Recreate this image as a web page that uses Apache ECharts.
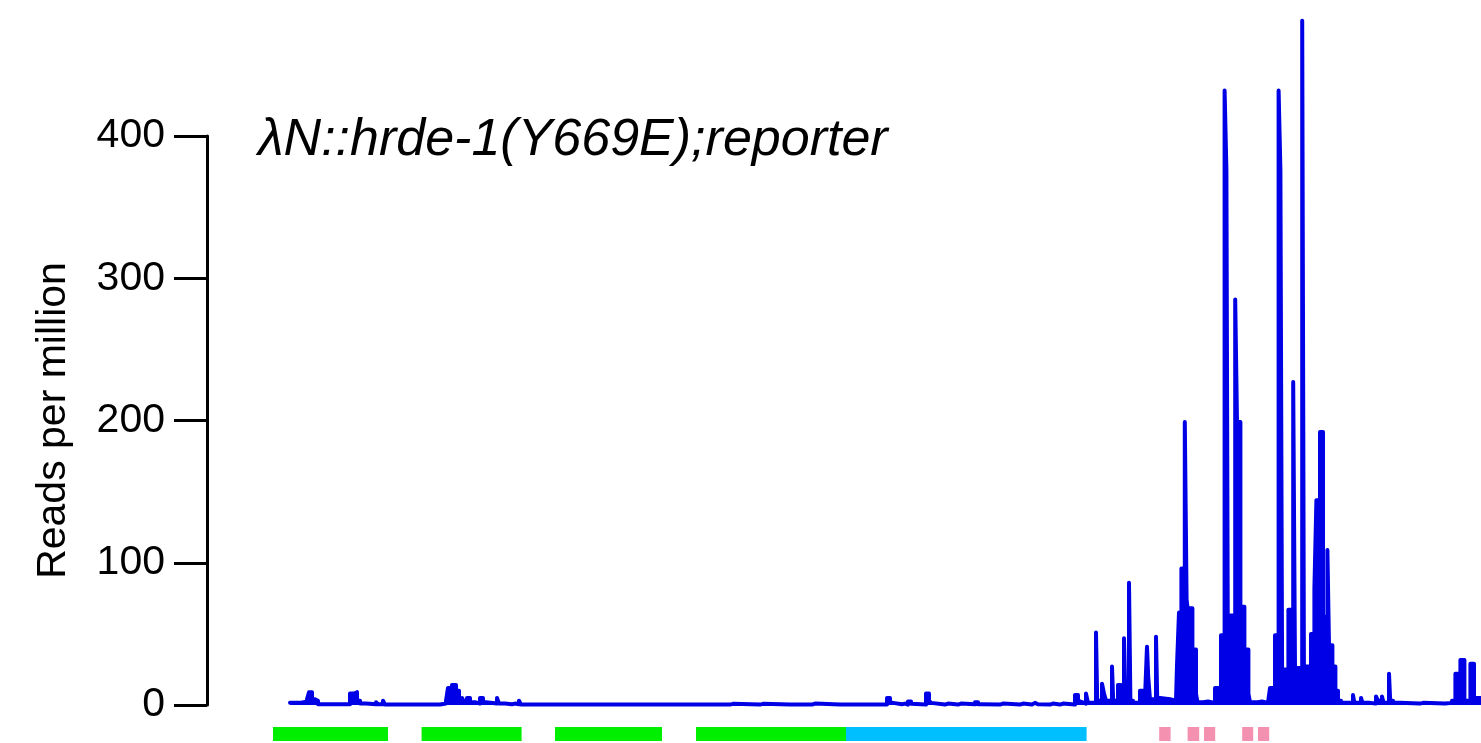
<!DOCTYPE html>
<html><head><meta charset="utf-8">
<script src="https://cdn.jsdelivr.net/npm/echarts@6/dist/echarts.min.js"></script>
<style>html,body{margin:0;padding:0;background:#fff}#c{width:1481px;height:743px}</style>
</head><body><div id="c"></div>
<script>
// Coverage track: each position starts a step holding the value until the next position (nt)
const coveragePos = [0,50,85,95,110,125,140,300,320,335,350,380,390,430,440,465,475,750,780,790,810,830,845,860,870,885,900,925,950,965,980,990,1035,1045,1075,1110,1125,1145,1155,1350,1360,1550,1560,1750,1760,2085,2095,2200,2215,2350,2365,2500,2510,2610,2625,2750,2760,2915,2925,2985,3000,3015,3060,3075,3090,3105,3115,3180,3195,3205,3215,3275,3290,3340,3355,3425,3440,3460,3550,3565,3650,3665,3710,3725,3740,3800,3815,3850,3865,3925,3940,3950,3960,3980,3990,4030,4036,4060,4070,4080,4110,4116,4140,4155,4170,4177,4195,4202,4215,4250,4275,4285,4291,4300,4330,4336,4350,4400,4430,4435,4445,4457,4474,4483,4488,4512,4530,4537,4565,4590,4625,4655,4673,4682,4690,4702,4726,4735,4752,4772,4792,4800,4840,4860,4890,4900,4925,4943,4952,4961,4970,4992,5016,5025,5061,5070,5080,5105,5122,5132,5150,5165,5187,5195,5212,5227,5240,5255,5315,5322,5355,5362,5400,5430,5440,5460,5468,5495,5501,5515,5550,5650,5665,5775,5810,5827,5852,5872,5902,5920,5955];
const coverageVal = [1.5,2.5,4,9,4,3,0.5,8,9,3,1,2,0.5,2,0.5,3,0.3,1,3,12,14,10,3,5,2,5,2,1,5,2,3,1,5,1,0.5,1,0.5,3,0.3,0.8,0.3,0.8,0.3,0.6,0.3,0.8,0.3,0.8,0.3,0.8,0.3,0.8,0.3,1,0.3,0.8,0.3,1.5,0.3,5,1.5,0.5,1,0.3,2.5,0.8,0.3,8,3,1.5,0.3,1,0.3,1,0.5,2,0.5,0.3,1,0.3,1,0.3,1.5,0.5,0.3,1,0.3,1,0.3,7,3,2,1,8,1.5,51,3,15,8,3,27,3,14,10,47,5,86,3,1.5,10,5,41,20,4,48,5,4,3,4,28,65,96,199,74,68,39,8,2,2.5,1.5,12,49,432,376,2,63,285,199,69,39,8,2,2.5,1.5,2,12,49,432,376,3,25,67,227,26,481,3,27,50,82,144,192,62,109,42,27,10,3,1.5,7,1.5,5,1.5,1,6,3,6,1.5,22,3,1.5,1,1.5,1,1.5,3,22,31.7,3,29,5,5];
// Annotation features (nt start, nt end, type)
const featureStart = [-85, 658, 1325, 2030, 2780, 4346, 4488, 4570, 4761, 4840];
const featureEnd   = [490, 1158, 1860, 2780, 3983, 4403, 4546, 4626, 4816, 4896];
const featureType  = ['exon','exon','exon','exon','utr','site','site','site','site','site'];
const yTicks = [0, 100, 200, 300, 400];
const titleText = 'λN::hrde-1(Y669E);reporter';
const yName = 'Reads per million';

const featureColors = {exon: '#00ee00', utr: '#00bfff', site: '#f490b0'};
const lineColor = '#0000e6';
const xMin = -415, xMax = 5955;

const chart = echarts.init(document.getElementById('c'));
chart.setOption({
  animation: false,
  title: {text: titleText, left: 253, top: 110,
    textStyle: {fontFamily: 'Liberation Sans', fontStyle: 'italic', fontWeight: 'normal', fontSize: 52, color: '#000'}},
  grid: [
    {left: 207, right: 0, top: 136, bottom: 38},
    {left: 207, right: 0, top: 727, height: 14}
  ],
  xAxis: [
    {type: 'value', gridIndex: 0, min: xMin, max: xMax, show: false},
    {type: 'value', gridIndex: 1, min: xMin, max: xMax, show: false}
  ],
  yAxis: [
    {type: 'value', gridIndex: 0, min: yTicks[0], max: yTicks[yTicks.length-1], interval: 100,
     name: yName, nameLocation: 'middle', nameRotate: 90, nameGap: 133,
     nameTextStyle: {fontFamily: 'Liberation Sans', fontSize: 41, color: '#000'},
     axisLine: {show: true, onZero: false, lineStyle: {color: '#000', width: 3}},
     axisTick: {show: true, length: 33, lineStyle: {color: '#000', width: 3}},
     axisLabel: {margin: 42, fontFamily: 'Liberation Sans', fontSize: 41, color: '#000'},
     splitLine: {show: false}},
    {type: 'value', gridIndex: 1, min: 0, max: 1, show: false}
  ],
  series: [
    {type: 'line', xAxisIndex: 0, yAxisIndex: 0, step: 'end', clip: false, symbol: 'none',
     data: coveragePos.map((p, i) => [p, coverageVal[i]]),
     lineStyle: {color: lineColor, width: 4, join: 'round', cap: 'round'},
     areaStyle: {color: lineColor, opacity: 1}},
    {type: 'custom', xAxisIndex: 1, yAxisIndex: 1, clip: false,
     data: featureStart.map((s, i) => [s, featureEnd[i], i]),
     renderItem: function (params, api) {
       const i = api.value(2);
       const p0 = api.coord([api.value(0), 1]);
       const p1 = api.coord([api.value(1), 0]);
       return {type: 'rect', shape: {x: p0[0], y: p0[1], width: p1[0] - p0[0], height: p1[1] - p0[1]},
               style: {fill: featureColors[featureType[i]]}};
     }}
  ]
});
</script></body></html>
